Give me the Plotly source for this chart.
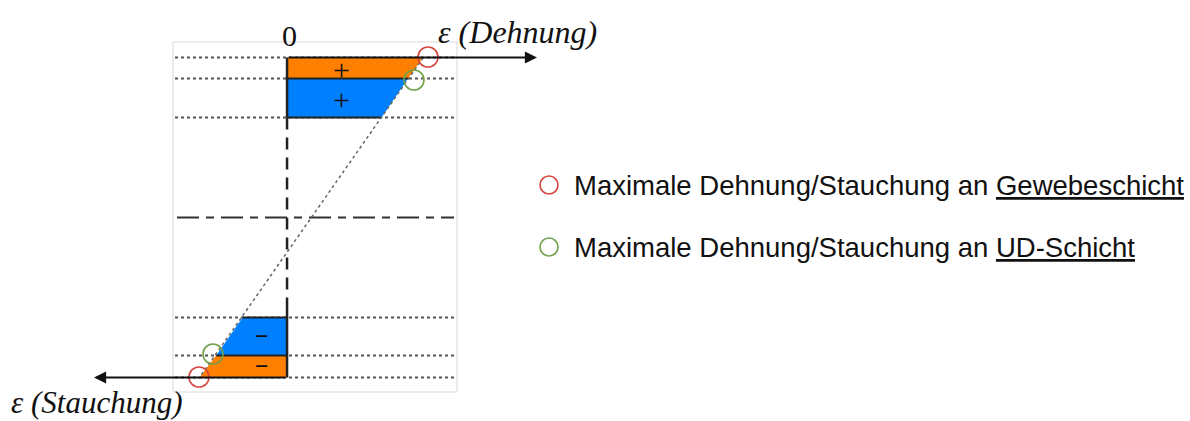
import plotly.graph_objects as go

# ---- data (schematic: strain distribution over laminate thickness) ----
z_top = [8.0, 6.95, 5.0]          # layer boundaries, upper side (orange fabric / blue UD)
eps_top = [0.98, 0.87, 0.68]      # strain at those boundaries
z_bot = [-5.0, -6.9, -8.0]        # layer boundaries, lower side
eps_bot = [-0.32, -0.51, -0.63]
z_mid = 0.0
labels_plus = ["+", "+"]
labels_minus = ["−", "−"]
legend_texts = ["Maximale Dehnung/Stauchung an <u>Gewebeschicht</u>",
                "Maximale Dehnung/Stauchung an <u>UD-Schicht</u>"]

ORANGE = "#FF8000"
BLUE = "#0080FF"
RED = "#D9453F"
GREEN = "#6FA04A"

W, H = 1190, 421
X0, X1 = -2.065, 6.496
Y0, Y1 = -10.175, 10.875


def ex(px):
    return X0 + px / W * (X1 - X0)


def zy(py):
    return Y1 - py / H * (Y1 - Y0)


fig = go.Figure()

# frame
fig.add_shape(type="rect", x0=ex(173), x1=ex(457), y0=zy(42), y1=zy(392),
              line=dict(color="#D9D9D9", width=1), layer="below")

# dotted horizontal guide lines
for z in z_top + z_bot:
    fig.add_trace(go.Scatter(x=[ex(175), ex(455)], y=[z, z], mode="lines",
                             line=dict(color="#555555", width=1.8, dash="dot"),
                             hoverinfo="skip", showlegend=False))

# filled layers (top)
fig.add_trace(go.Scatter(x=[0, eps_top[0], eps_top[1], 0, 0], y=[z_top[0], z_top[0], z_top[1], z_top[1], z_top[0]],
                         fill="toself", fillcolor=ORANGE, mode="lines", line=dict(width=0),
                         hoverinfo="skip", showlegend=False))
fig.add_trace(go.Scatter(x=[0, eps_top[1], eps_top[2], 0, 0], y=[z_top[1], z_top[1], z_top[2], z_top[2], z_top[1]],
                         fill="toself", fillcolor=BLUE, mode="lines", line=dict(width=0),
                         hoverinfo="skip", showlegend=False))
# filled layers (bottom)
fig.add_trace(go.Scatter(x=[0, eps_bot[0], eps_bot[1], 0, 0], y=[z_bot[0], z_bot[0], z_bot[1], z_bot[1], z_bot[0]],
                         fill="toself", fillcolor=BLUE, mode="lines", line=dict(width=0),
                         hoverinfo="skip", showlegend=False))
fig.add_trace(go.Scatter(x=[0, eps_bot[1], eps_bot[2], 0, 0], y=[z_bot[1], z_bot[1], z_bot[2], z_bot[2], z_bot[1]],
                         fill="toself", fillcolor=ORANGE, mode="lines", line=dict(width=0),
                         hoverinfo="skip", showlegend=False))

# black edges
for e, z in [(eps_top[1], z_top[1]), (eps_top[2], z_top[2]), (eps_bot[0], z_bot[0]), (eps_bot[1], z_bot[1])]:
    fig.add_trace(go.Scatter(x=[0, e], y=[z, z], mode="lines", line=dict(color="#222222", width=2.2),
                             hoverinfo="skip", showlegend=False))
fig.add_trace(go.Scatter(x=[0, 0], y=[z_top[0], z_top[2]], mode="lines", line=dict(color="#222222", width=2.5),
                         hoverinfo="skip", showlegend=False))
fig.add_trace(go.Scatter(x=[0, 0], y=[zy(305), z_bot[2]], mode="lines", line=dict(color="#222222", width=2.5),
                         hoverinfo="skip", showlegend=False))
# dashed zero line
fig.add_trace(go.Scatter(x=[0, 0], y=[z_top[2], zy(305)], mode="lines",
                         line=dict(color="#222222", width=2.5, dash="12px,8px"),
                         hoverinfo="skip", showlegend=False))
# dash-dot midplane
fig.add_trace(go.Scatter(x=[ex(177), ex(454)], y=[z_mid, z_mid], mode="lines",
                         line=dict(color="#333333", width=2.2, dash="22px,7px,8px,7px"),
                         hoverinfo="skip", showlegend=False))
# strain line
fig.add_trace(go.Scatter(x=[eps_top[0], eps_bot[2]], y=[z_top[0], z_bot[2]], mode="lines",
                         line=dict(color="#666666", width=1.5, dash="dot"),
                         hoverinfo="skip", showlegend=False))

# axes arrows
fig.add_annotation(x=ex(537), y=z_top[0], ax=0, ay=z_top[0], xref="x", yref="y", axref="x", ayref="y",
                   text="", showarrow=True, arrowhead=2, arrowsize=1.1, arrowwidth=2.2, arrowcolor="#111111")
fig.add_annotation(x=ex(94), y=z_bot[2], ax=0, ay=z_bot[2], xref="x", yref="y", axref="x", ayref="y",
                   text="", showarrow=True, arrowhead=2, arrowsize=1.1, arrowwidth=2.2, arrowcolor="#111111")

# circles at max strains
fig.add_trace(go.Scatter(x=[ex(428), ex(199)], y=[zy(57), zy(377)], mode="markers",
                         marker=dict(symbol="circle-open", size=20, color=RED, line=dict(width=1.6)),
                         hoverinfo="skip", showlegend=False))
fig.add_trace(go.Scatter(x=[ex(414), ex(213)], y=[zy(80), zy(354)], mode="markers",
                         marker=dict(symbol="circle-open", size=20, color=GREEN, line=dict(width=1.6)),
                         hoverinfo="skip", showlegend=False))
# legend circles
fig.add_trace(go.Scatter(x=[ex(549)], y=[zy(185)], mode="markers",
                         marker=dict(symbol="circle-open", size=18, color=RED, line=dict(width=1.6)),
                         hoverinfo="skip", showlegend=False))
fig.add_trace(go.Scatter(x=[ex(549)], y=[zy(247)], mode="markers",
                         marker=dict(symbol="circle-open", size=18, color=GREEN, line=dict(width=1.6)),
                         hoverinfo="skip", showlegend=False))

serif = "Liberation Serif, DejaVu Serif, serif"
# signs
for lbl, py in zip(labels_plus, [69, 99]):
    fig.add_annotation(x=ex(341), y=zy(py), text=lbl, showarrow=False,
                       font=dict(family=serif, size=30, color="#111111"))
for lbl, py in zip(labels_minus, [336, 366]):
    fig.add_annotation(x=ex(262), y=zy(py), text="<b>" + lbl + "</b>", showarrow=False,
                       font=dict(family=serif, size=24, color="#111111"))

# axis texts
fig.add_annotation(x=ex(289), y=zy(35), text="0", showarrow=False,
                   font=dict(family=serif, size=30, color="#111111"))
fig.add_annotation(x=ex(436), y=zy(32), text="<i>ε (Dehnung)</i>", showarrow=False, xanchor="left",
                   font=dict(family=serif, size=32, color="#111111"))
fig.add_annotation(x=ex(9), y=zy(402), text="<i>ε (Stauchung)</i>", showarrow=False, xanchor="left",
                   font=dict(family=serif, size=31, color="#111111"))

# legend texts
for t, py in zip(legend_texts, [185, 247]):
    fig.add_annotation(x=ex(572), y=zy(py), text=t, showarrow=False, xanchor="left",
                       font=dict(family="Liberation Sans, Arial, sans-serif", size=27.5, color="#111111"))

fig.update_layout(
    width=W, height=H, margin=dict(l=0, r=0, t=0, b=0),
    paper_bgcolor="white", plot_bgcolor="white",
    xaxis=dict(range=[X0, X1], visible=False, fixedrange=True),
    yaxis=dict(range=[Y0, Y1], visible=False, fixedrange=True),
    showlegend=False,
)

fig.write_html("out.html", config={"displayModeBar": False},
               post_script="document.body.style.margin='0';document.body.style.overflow='hidden';")
